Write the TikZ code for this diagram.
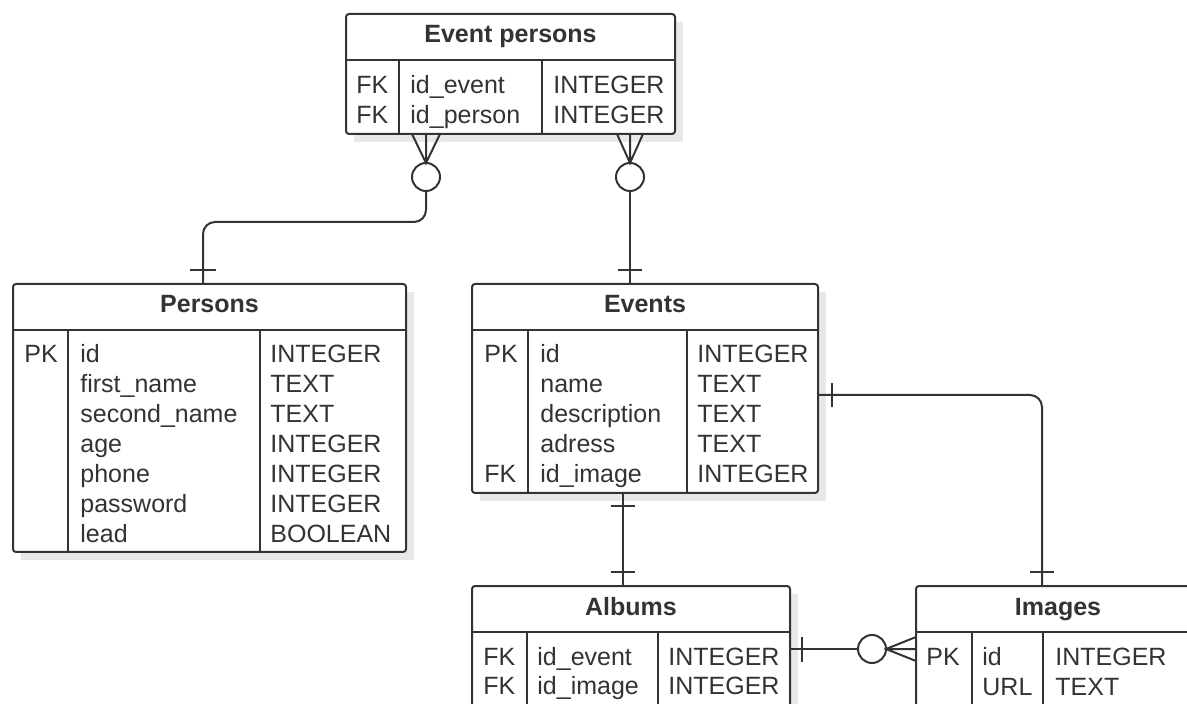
\documentclass[tikz,border=0pt]{standalone}
\usepackage{fontspec}
\setmainfont{Liberation Sans}
\usetikzlibrary{calc}
\definecolor{ln}{HTML}{333333}
\definecolor{sh}{HTML}{E8E8E8}
\begin{document}
\begin{tikzpicture}[x=0.5pt,y=-0.5pt,
  tbl/.style={draw=ln, line width=1pt, fill=white, rounded corners=1.5pt, inner sep=0pt, outer sep=0pt},
  shd/.style={fill=sh, draw=none, rounded corners=2pt, inner sep=0pt, outer sep=0pt},
  ttl/.style={font=\fontsize{12.5}{15}\selectfont\bfseries, text=ln, anchor=base, inner sep=0pt},
  fld/.style={font=\fontsize{12.5}{15}\selectfont, text=ln, anchor=base west, inner sep=0pt},
  sep/.style={draw=ln, line width=1pt},
  conn/.style={draw=ln, line width=1pt, rounded corners=6pt},
  bar/.style={draw=ln, line width=1pt},
  circ/.style={circle, draw=ln, line width=1pt, fill=white, minimum size=14pt, inner sep=0pt, outer sep=0pt}
]
\useasboundingbox (0,0) rectangle (1187,704);
% shadows
\fill[sh] (354,22) rectangle (683,142);
\fill[sh] (21,292) rectangle (414,560);
\fill[sh] (480,292) rectangle (826,501);
\fill[sh] (480,594) rectangle (798,720);
\fill[sh] (924,594) rectangle (1200,720);
% tables
\node[tbl, minimum width=164.5pt, minimum height=60pt] (ep) at (510.5,74) {};
\node[tbl, minimum width=196.5pt, minimum height=134pt] (pers) at (209.5,418) {};
\node[tbl, minimum width=173pt, minimum height=104.5pt] (ev) at (645,388.5) {};
\node[tbl, minimum width=159pt, minimum height=64pt] (alb) at (631,650) {};
\node[tbl, minimum width=142pt, minimum height=64pt] (img) at (1058,650) {};
% header separators and column dividers
\draw[sep] (346,60) -- (675,60) (399,60) -- (399,134) (542,60) -- (542,134);
\draw[sep] (13,330) -- (406,330) (68,330) -- (68,552) (260,330) -- (260,552);
\draw[sep] (472,330) -- (818,330) (528,330) -- (528,493) (687,330) -- (687,493);
\draw[sep] (472,632) -- (790,632) (527,632) -- (527,714) (658,632) -- (658,714);
\draw[sep] (916,632) -- (1200,632) (972,632) -- (972,714) (1043,632) -- (1043,714);
% titles
\node[ttl] (epT) at (510.5,43) {Event persons};
\node[ttl] (persT) at (209.5,313) {Persons};
\node[ttl] (evT) at (645,313) {Events};
\node[ttl] (albT) at (631,615) {Albums};
\node[ttl] (imgT) at (1058,615) {Images};
% Event persons fields
\node[fld] (epk1) at (356,94) {FK};
\node[fld] (epn1) at (410,94) {id\_event};
\node[fld] (ept1) at (553,94) {INTEGER};
\node[fld] (epk2) at (356,124) {FK};
\node[fld] (epn2) at (410,124) {id\_person};
\node[fld] (ept2) at (553,124) {INTEGER};
% Persons fields
\node[fld] (pk1) at (24,363) {PK};
\foreach \n/\t [count=\i] in {id/INTEGER, first\_name/TEXT, second\_name/TEXT, age/INTEGER, phone/INTEGER, password/INTEGER, lead/BOOLEAN}{
  \node[fld] (pn\i) at (80,{363+30*(\i-1)}) {\n};
  \node[fld] (pt\i) at (270,{363+30*(\i-1)}) {\t};
}
% Events fields
\node[fld] (ek1) at (484,363) {PK};
\node[fld] (ek5) at (484,483) {FK};
\foreach \n/\t [count=\i] in {id/INTEGER, name/TEXT, description/TEXT, adress/TEXT, id\_image/INTEGER}{
  \node[fld] (en\i) at (540,{363+30*(\i-1)}) {\n};
  \node[fld] (et\i) at (697,{363+30*(\i-1)}) {\t};
}
% Albums fields
\node[fld] (ak1) at (483,665) {FK};
\node[fld] (an1) at (537,665) {id\_event};
\node[fld] (at1) at (668,665) {INTEGER};
\node[fld] (ak2) at (483,694) {FK};
\node[fld] (an2) at (537,694) {id\_image};
\node[fld] (at2) at (668,694) {INTEGER};
% Images fields
\node[fld] (ik1) at (926,665) {PK};
\node[fld] (in1) at (982,665) {id};
\node[fld] (it1) at (1055,665) {INTEGER};
\node[fld] (in2) at (982,695) {URL};
\node[fld] (it2) at (1055,695) {TEXT};
% connector anchor points
\coordinate (ep1) at ($(ep.south west)+(80,0)$);
\coordinate (ep2) at ($(ep.south west)+(284,0)$);
\coordinate (p1) at ($(pers.north west)+(190,0)$);
\coordinate (k1) at ($(p1)+(0,-62)$);
\coordinate (e1) at ($(ev.north west)+(158,0)$);
\coordinate (e2) at ($(ev.south west)+(151,0)$);
\coordinate (e3) at ($(ev.north east)+(0,111)$);
\coordinate (a1) at ($(alb.north west)+(151,0)$);
\coordinate (a2) at ($(alb.north east)+(0,63)$);
\coordinate (i1) at ($(img.north west)+(126,0)$);
\coordinate (i2) at ($(img.north west)+(0,63)$);
% circles
\node[circ] (c1) at ($(ep1)+(0,43)$) {};
\node[circ] (c2) at ($(ep2)+(0,43)$) {};
\node[circ] (c3) at ($(i2)+(-44,0)$) {};
% connector 1: Event persons -> Persons
\draw[bar] ($(ep1)+(-14,0)$) -- (c1.north) -- ($(ep1)+(14,0)$) (ep1) -- (c1.north);
\draw[conn] (c1.south) |- (k1) -- (p1);
\draw[bar] ($(p1)+(-13,-14)$) -- ($(p1)+(13,-14)$);
% connector 2: Event persons -> Events
\draw[bar] ($(ep2)+(-13,0)$) -- (c2.north) -- ($(ep2)+(13,0)$) (ep2) -- (c2.north);
\draw[conn] (c2.south) -- (e1);
\draw[bar] ($(e1)+(-12,-14)$) -- ($(e1)+(12,-14)$);
% connector 3: Events -> Albums
\draw[conn] (e2) -- (a1);
\draw[bar] ($(e2)+(-12,13)$) -- ($(e2)+(12,13)$);
\draw[bar] ($(a1)+(-12,-14)$) -- ($(a1)+(12,-14)$);
% connector 4: Events -> Images
\draw[conn] (e3) -| (i1);
\draw[bar] ($(e3)+(14,-12)$) -- ($(e3)+(14,12)$);
\draw[bar] ($(i1)+(-12,-14)$) -- ($(i1)+(12,-14)$);
% connector 5: Albums -> Images
\draw[conn] (a2) -- (c3.west);
\draw[bar] ($(a2)+(12,-12)$) -- ($(a2)+(12,13)$);
\draw[bar] ($(i2)+(0,-12)$) -- (c3.east) -- ($(i2)+(0,12)$) (i2) -- (c3.east);
\end{tikzpicture}
\end{document}
